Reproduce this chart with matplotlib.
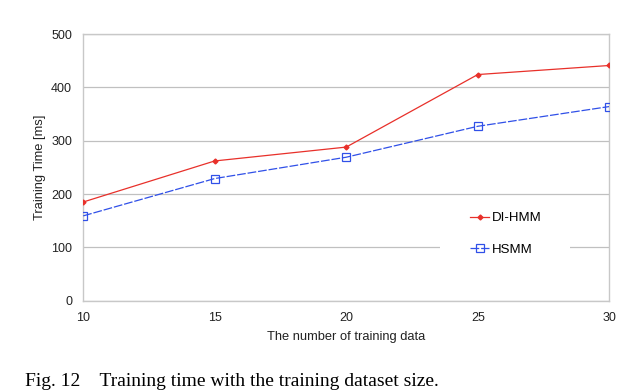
import matplotlib.pyplot as plt
from matplotlib.patches import Rectangle

# training data size vs training time
n_train = [10, 15, 20, 25, 30]
di_hmm = [185, 262, 288, 424, 441]
hsmm = [159, 229, 269, 327, 364]

plt.rcParams['font.family'] = ['Liberation Sans', 'DejaVu Sans']

fig = plt.figure(figsize=(6.4, 3.91), dpi=100)
ax = fig.add_axes([0.130, 0.231, 0.822, 0.682])

ax.plot(n_train, di_hmm, color='#e8302a', lw=0.9, marker='D', ms=2.5,
        label='DI-HMM', zorder=3)
ax.plot(n_train, hsmm, color='#3050e8', lw=0.9, dashes=(7, 1.5), marker='s', ms=6,
        mfc='none', mew=0.9, label='HSMM', zorder=3)

ax.set_xlim(10, 30)
ax.set_ylim(0, 500)
ax.set_xticks(n_train)
ax.set_yticks([0, 100, 200, 300, 400, 500])
ax.grid(axis='y', color='#c0c0c0', lw=0.9)
ax.set_axisbelow(True)
for s in ax.spines.values():
    s.set_color('#c8c8c8')
    s.set_linewidth(1.0)
ax.tick_params(length=0, labelsize=9, pad=8, colors='#222222')
ax.set_xlabel('The number of training data', fontsize=9.3, labelpad=5, color='#222222')
ax.set_ylabel('Training Time [ms]', fontsize=9.3, labelpad=4, color='#222222')

# white legend box that breaks the gridline
ax.add_patch(Rectangle((0.679, 0.145), 0.247, 0.10, transform=ax.transAxes,
                       fc='white', ec='none', zorder=1))
ax.legend(loc='center left', bbox_to_anchor=(0.736, 0.25), frameon=False,
          fontsize=9.5, labelspacing=1.45, handlelength=1.4, handletextpad=0.2,
          borderpad=0, borderaxespad=0)

fig.text(0.039, 5 / 391, 'Fig. 12    Training time with the training dataset size.',
         family=['Liberation Serif', 'DejaVu Serif'], fontsize=14, va='baseline')

fig.savefig('out.png', dpi=100)
